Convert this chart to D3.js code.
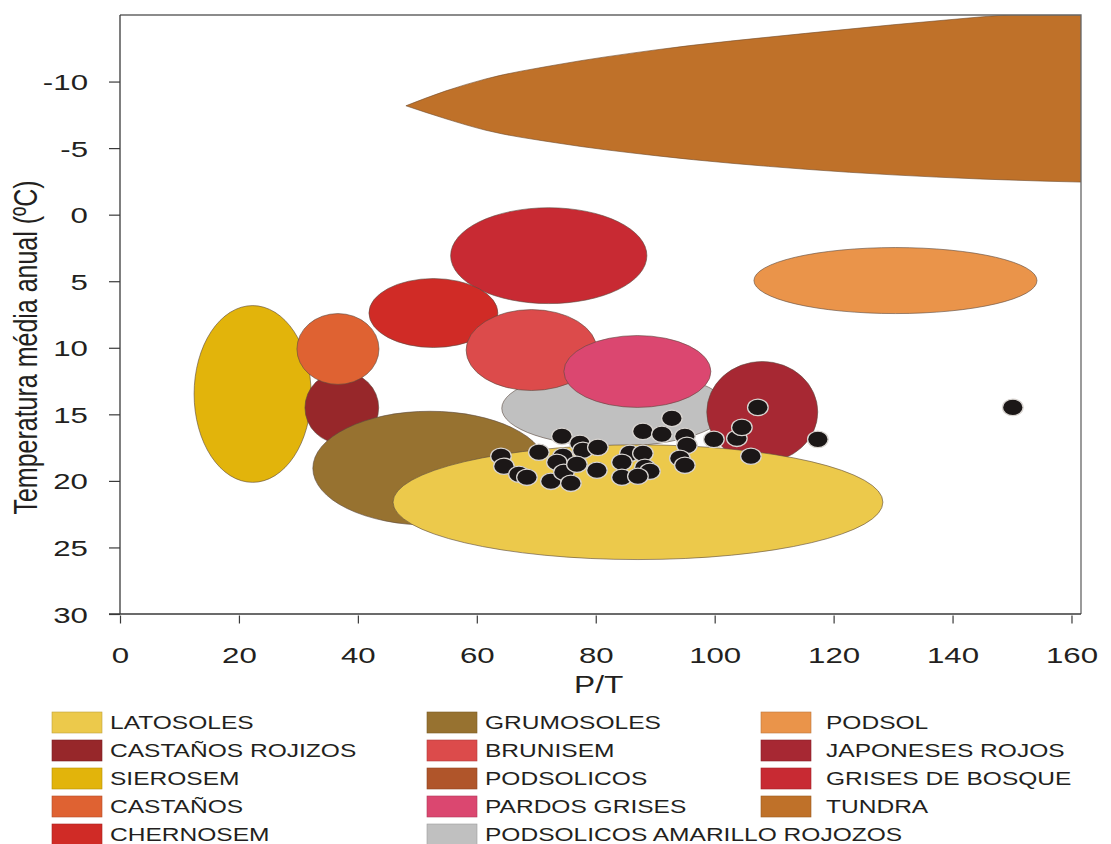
<!DOCTYPE html>
<html>
<head>
<meta charset="utf-8">
<script src="https://cdn.jsdelivr.net/npm/d3@7"></script>
<style>
  html, body { margin: 0; padding: 0; background: #fff; }
  svg { display: block; }
  text { font-family: "Liberation Sans", Arial, sans-serif; fill: #231f20; }
</style>
</head>
<body>
<svg id="chart" width="1111" height="844"></svg>
<script>
// Soil groups (legend order, column by column)
const soilNames = [
  "LATOSOLES", "CASTAÑOS ROJIZOS", "SIEROSEM", "CASTAÑOS", "CHERNOSEM",
  "GRUMOSOLES", "BRUNISEM", "PODSOLICOS", "PARDOS GRISES", "PODSOLICOS AMARILLO ROJOZOS",
  "PODSOL", "JAPONESES ROJOS", "GRISES DE BOSQUE", "TUNDRA"
];
const soilColors = [
  "#ECC94B", "#97272A", "#E2B40B", "#DF6232", "#D02B26",
  "#977230", "#DC4B4B", "#B0552A", "#DB4770", "#C0C0C0",
  "#EA944A", "#A72833", "#C82A33", "#BF7129"
];

// Elliptic domains: centre (P/T, °C) and half-widths (P/T, °C)
const ellipseSoils = ["PODSOL", "GRISES DE BOSQUE", "CHERNOSEM", "SIEROSEM", "CASTAÑOS ROJIZOS",
  "CASTAÑOS", "GRUMOSOLES", "PODSOLICOS AMARILLO ROJOZOS", "BRUNISEM", "PARDOS GRISES",
  "JAPONESES ROJOS", "LATOSOLES"];
const ellipsePT     = [130.4, 72.1, 52.7, 22.3, 37.3, 36.65, 52.1, 83.2, 69.2, 87.0, 108.0, 87.1];
const ellipseTemp   = [4.95, 3.08, 7.39, 13.47, 14.5, 10.09, 19.05, 14.55, 10.17, 11.78, 14.82, 21.6];
const ellipseRadPT  = [23.8, 16.5, 10.84, 9.84, 6.2, 6.9, 19.67, 19.0, 11.0, 12.36, 9.33, 41.19];
const ellipseRadT   = [2.48, 3.6, 2.59, 6.64, 2.7, 2.66, 4.28, 2.85, 3.04, 2.7, 3.79, 4.31];

// Tundra outline: upper and lower edge sampled along P/T
const tundraPT     = [48.08, 54.81, 61.53, 73.3, 90.11, 115.33, 144.59, 165.77];
const tundraTop    = [-8.18, -9.30, -10.20, -11.25, -12.38, -13.62, -14.85, -15.6];
const tundraBottom = [-8.18, -7.20, -6.34, -5.40, -4.43, -3.41, -2.68, -2.40];

// Observed sites (P/T, mean annual temperature)
const sitePT = [64.06, 64.56, 67.08, 68.43, 70.44, 72.46, 74.31, 74.48, 73.47, 74.65, 75.82,
  77.34, 77.84, 76.83, 80.2, 80.36, 85.74, 87.93, 84.4, 88.27, 89.11, 84.4, 87.09,
  87.93, 91.12, 92.8, 94.99, 95.33, 94.15, 94.99, 99.87, 103.73, 104.57, 107.26,
  106.09, 117.35, 150.13];
const siteTemp = [18.15, 18.9, 19.5, 19.73, 17.85, 20.03, 16.65, 18.15, 18.6, 19.35, 20.18,
  17.18, 17.7, 18.75, 19.2, 17.48, 17.93, 17.93, 18.6, 18.98, 19.28, 19.73, 19.65,
  16.28, 16.5, 15.3, 16.65, 17.33, 18.3, 18.83, 16.88, 16.8, 15.98, 14.48,
  18.15, 16.88, 14.48];

// Axis ticks
const xTicks = [0, 20, 40, 60, 80, 100, 120, 140, 160];
const yTicks = [-10, -5, 0, 5, 10, 15, 20, 25, 30];

(function draw() {
  const svg = d3.select("#chart");
  const pLeft = 120, pRight = 1081, pTop = 15, pBottom = 614;
  const stretch = 1.32;     // horizontal glyph expansion of the labels
  const tickStretch = 1.42; // slightly wider digits on the axes

  const x = d3.scaleLinear().domain([0, 161.6]).range([pLeft, pRight]);
  const y = d3.scaleLinear().domain([-15, 30]).range([pTop, pBottom]);
  const colorOf = name => soilColors[soilNames.indexOf(name)];

  svg.append("defs").append("clipPath").attr("id", "plotClip")
    .append("rect").attr("x", pLeft).attr("y", pTop)
    .attr("width", pRight - pLeft).attr("height", pBottom - pTop);

  const plot = svg.append("g").attr("clip-path", "url(#plotClip)");

  // Tundra lens
  const tundraRows = tundraPT.map((v, i) => ({ pt: v, t0: tundraTop[i], t1: tundraBottom[i] }));
  plot.append("path")
    .datum(tundraRows)
    .attr("d", d3.area().x(d => x(d.pt)).y0(d => y(d.t0)).y1(d => y(d.t1)).curve(d3.curveMonotoneX))
    .attr("fill", colorOf("TUNDRA"))
    .attr("stroke", "#6e4a2a").attr("stroke-width", 0.6);

  // Soil ellipses
  const ellipses = ellipseSoils.map((s, i) => ({
    name: s, cx: ellipsePT[i], cy: ellipseTemp[i], rx: ellipseRadPT[i], ry: ellipseRadT[i]
  }));
  plot.selectAll("ellipse.soil").data(ellipses).join("ellipse")
    .attr("class", "soil")
    .attr("cx", d => x(d.cx))
    .attr("cy", d => y(d.cy))
    .attr("rx", d => x(d.cx + d.rx) - x(d.cx))
    .attr("ry", d => y(d.cy + d.ry) - y(d.cy))
    .attr("fill", d => colorOf(d.name))
    .attr("stroke", "#5a4a40").attr("stroke-width", 0.6);

  // Sites
  const sites = sitePT.map((v, i) => ({ pt: v, t: siteTemp[i] }));
  plot.selectAll("ellipse.site").data(sites).join("ellipse")
    .attr("class", "site")
    .attr("cx", d => x(d.pt))
    .attr("cy", d => y(d.t))
    .attr("rx", 10.3).attr("ry", 8.2)
    .attr("fill", "#1b1717")
    .attr("stroke", "#d8d4d0").attr("stroke-width", 1.3);

  // Axes
  const axisColor = "#3a3a3a";
  const yAxis = svg.append("g").attr("transform", `translate(${pLeft},0)`)
    .call(d3.axisLeft(y).tickValues(yTicks).tickSize(11).tickSizeOuter(0).tickPadding(0));
  yAxis.select(".domain").remove();
  yAxis.selectAll(".tick line").attr("stroke", axisColor).attr("stroke-width", 1.2);
  yAxis.selectAll(".tick text")
    .attr("x", null).attr("dy", null)
    .attr("text-anchor", "end")
    .attr("transform", `translate(-32,8) scale(${tickStretch},1)`)
    .style("font-size", "22px")
    .text(d => d);

  const xAxis = svg.append("g").attr("transform", `translate(0,${pBottom})`)
    .call(d3.axisBottom(x).tickValues(xTicks).tickSize(9).tickSizeOuter(0).tickPadding(0));
  xAxis.select(".domain").remove();
  xAxis.selectAll(".tick line").attr("y1", 1.5).attr("y2", 9.5)
    .attr("stroke", axisColor).attr("stroke-width", 1.2);
  xAxis.selectAll(".tick text")
    .attr("y", null).attr("dy", null)
    .attr("text-anchor", "middle")
    .attr("transform", `translate(0,49) scale(${tickStretch},1)`)
    .style("font-size", "22px");

  // Frame
  const frame = svg.append("g").attr("fill", "none").attr("stroke", axisColor).attr("stroke-width", 1.3);
  frame.append("path").attr("d", `M${pLeft},${pTop}H${pRight}V${pBottom}`).attr("stroke", "#666");
  frame.append("path").attr("d", `M${pLeft},${pTop}V${pBottom}`);
  frame.append("path").attr("d", `M${pLeft - 11},${pBottom}H${pRight}`);

  // Axis titles
  svg.append("text")
    .attr("transform", `translate(${x(80.5)},693) scale(${stretch},1)`)
    .attr("text-anchor", "middle")
    .style("font-size", "24px")
    .text("P/T");
  svg.append("text")
    .attr("transform", `translate(36.5,347.5) scale(${stretch},1) rotate(-90)`)
    .attr("text-anchor", "middle")
    .style("font-size", "25px")
    .text("Temperatura média anual (ºC)");

  // Legend
  const colX = [52, 427, 761];
  const textX = [110, 485, 826];
  const perCol = 5;
  const legend = svg.append("g");
  soilNames.forEach((name, i) => {
    const c = Math.floor(i / perCol), r = i % perCol;
    const yTop = 712 + r * 28;
    legend.append("rect")
      .attr("x", colX[c]).attr("y", yTop).attr("width", 50).attr("height", 21)
      .attr("fill", soilColors[i])
      .attr("stroke", d3.color(soilColors[i]).darker(0.6)).attr("stroke-width", 0.6);
    legend.append("text")
      .attr("transform", `translate(${textX[c]},${yTop + 17}) scale(${stretch},1)`)
      .style("font-size", "18.6px")
      .text(name);
  });
})();
</script>
</body>
</html>
